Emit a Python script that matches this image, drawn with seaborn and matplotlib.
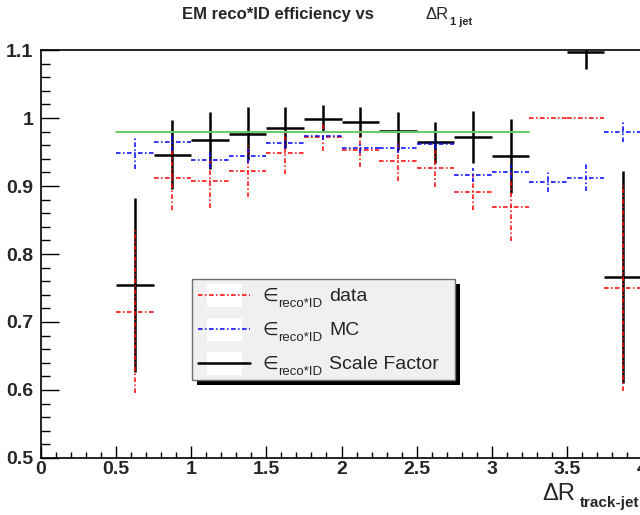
import numpy as np
import matplotlib
matplotlib.use("Agg")
from matplotlib import pyplot as plt
from matplotlib.patches import Rectangle
from matplotlib.lines import Line2D
from matplotlib.ticker import MultipleLocator, FuncFormatter
import seaborn as sns

# bins of dR(track-jet), width 0.25
bin_centers = [0.625, 0.875, 1.125, 1.375, 1.625, 1.875, 2.125,
               2.375, 2.625, 2.875, 3.125, 3.375, 3.625, 3.875]
bin_half = 0.125

eff_data = [0.715, 0.912, 0.908, 0.922, 0.948, 0.972, 0.953,
            0.937, 0.926, 0.891, 0.869, 1.000, 1.000, 0.750]
eff_data_err = [0.120, 0.047, 0.040, 0.038, 0.030, 0.021, 0.025,
                0.029, 0.027, 0.027, 0.050, 0.000, 0.000, 0.152]

eff_mc = [0.948, 0.965, 0.938, 0.944, 0.963, 0.973, 0.956,
          0.956, 0.962, 0.916, 0.921, 0.906, 0.912, 0.979]
eff_mc_err = [0.023, 0.013, 0.012, 0.010, 0.008, 0.006, 0.008,
              0.008, 0.007, 0.010, 0.010, 0.015, 0.020, 0.015]

sf = [0.754, 0.946, 0.967, 0.977, 0.986, 0.999, 0.994,
      0.981, 0.964, 0.972, 0.944, 1.104, 1.097, 0.766]
sf_err = [0.128, 0.051, 0.042, 0.039, 0.030, 0.020, 0.022,
          0.028, 0.030, 0.038, 0.054, 0.030, 0.025, 0.156]

# constant fit of the scale factor
fit_x = [0.5, 3.25]
fit_y = [0.980, 0.980]

legend_words = ["data", "MC", "Scale Factor"]

W, H = 640, 515
def fx(p):
    return p / W
def fy(p):
    return 1 - p / H

sns.set_theme(style="ticks")
plt.rcParams['font.family'] = ['Liberation Sans', 'DejaVu Sans']
plt.rcParams['axes.linewidth'] = 1.2

fig = plt.figure(figsize=(6.4, 5.15), dpi=100)
fig.patch.set_facecolor("white")
ax = fig.add_axes([fx(41), fy(458), 601 / W, 408 / H])
ax.set_facecolor("white")

dash_dot = (0, (3, 1.6, 1, 1.6))

def draw_eff(y, yerr, color, ls, lw, z):
    x = np.array(bin_centers)
    y = np.array(y)
    yerr = np.array(yerr)
    keep = (y >= 0.5) & (y <= 1.1)  # ROOT drops points out of the frame
    eb = ax.errorbar(x[keep], y[keep], xerr=bin_half, yerr=yerr[keep],
                     fmt='none', ecolor=color, elinewidth=lw, capsize=0,
                     zorder=z)
    for col in eb[2]:
        col.set_linestyle(ls)

draw_eff(sf, sf_err, "black", "-", 1.8, 2)
draw_eff(eff_data, eff_data_err, "#ff0000", dash_dot, 1.1, 3)
draw_eff(eff_mc, eff_mc_err, "#0000ff", dash_dot, 1.1, 4)
sns.lineplot(x=fit_x, y=fit_y, ax=ax, color="#66cc66", lw=1.4, zorder=5)

ax.set_xlim(0, 4)
ax.set_ylim(0.5, 1.1)
ax.xaxis.set_major_locator(MultipleLocator(0.5))
ax.xaxis.set_minor_locator(MultipleLocator(0.1))
ax.yaxis.set_major_locator(MultipleLocator(0.1))
ax.yaxis.set_minor_locator(MultipleLocator(0.02))
fmt = FuncFormatter(lambda v, p: f"{v:g}")
ax.xaxis.set_major_formatter(fmt)
ax.yaxis.set_major_formatter(fmt)
ax.tick_params(which='both', direction='in', top=False, right=False,
               color='black', width=1)
ax.tick_params(axis='x', which='major', length=8.6, pad=2.5, labelsize=14)
ax.tick_params(axis='x', which='minor', length=4.3)
ax.tick_params(axis='y', which='major', length=13, pad=5.5, labelsize=14)
ax.tick_params(axis='y', which='minor', length=6.5)
for lab in ax.get_xticklabels() + ax.get_yticklabels():
    lab.set_fontweight('bold')
for s in ax.spines.values():
    s.set_color('black')
ax.set_xlabel("")
ax.set_ylabel("")

# title
fig.text(fx(182), fy(19), "EM reco*ID efficiency vs", fontsize=12,
         fontweight='bold', va='baseline', ha='left')
fig.text(fx(426), fy(19), "ΔR", fontsize=12, va='baseline', ha='left')
fig.text(fx(450), fy(25), "1 jet", fontsize=8, fontweight='bold',
         va='baseline', ha='left')

# x axis title
fig.text(fx(542), fy(500), "ΔR", fontsize=17, va='baseline', ha='left')
fig.text(fx(580), fy(507), "track-jet", fontsize=11, fontweight='bold',
         va='baseline', ha='left')

# legend box with shadow
fig.add_artist(Rectangle((fx(197), fy(385)), 263 / W, 101 / H,
                         transform=fig.transFigure, facecolor='black',
                         edgecolor='none', zorder=10))
fig.add_artist(Rectangle((fx(192), fy(380)), 263 / W, 101 / H,
                         transform=fig.transFigure, facecolor='#f0f0f0',
                         edgecolor='#707070', lw=1, zorder=11))
leg_styles = [("#ff0000", dash_dot, 1.1), ("#0000ff", dash_dot, 1.1),
              ("black", "-", 1.8)]
for i, (word, (c, ls, lw)) in enumerate(zip(legend_words, leg_styles)):
    base = 301 + 34 * i
    fig.add_artist(Rectangle((fx(207), fy(base + 6)), 35 / W, 23 / H,
                             transform=fig.transFigure, facecolor='white',
                             edgecolor='none', zorder=12))
    fig.add_artist(Line2D([fx(198), fx(250)], [fy(base - 6), fy(base - 6)],
                          transform=fig.transFigure, color=c, ls=ls, lw=lw,
                          zorder=13))
    fig.text(fx(262), fy(base), "∈", fontsize=13, va='baseline', ha='left',
             zorder=13)
    fig.text(fx(278), fy(base + 6), "reco*ID", fontsize=9.5, va='baseline',
             ha='left', zorder=13)
    fig.text(fx(329), fy(base), word, fontsize=14, va='baseline', ha='left',
             zorder=13)

plt.savefig("out.png", dpi=100)
